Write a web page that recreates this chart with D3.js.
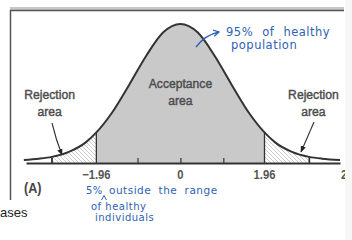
<!DOCTYPE html>
<html>
<head>
<meta charset="utf-8">
<script src="https://cdn.jsdelivr.net/npm/d3@7"></script>
<style>
body{margin:0;background:#fff;}
svg{display:block;}
</style>
</head>
<body>
<svg id="chart" width="352" height="240"></svg>
<script>
// curve: z (SD units) and relative height
var zs   = [-3.65,-3.3,-3,-2.6,-2.2,-1.96,-1.6,-1.2,-0.8,-0.4,0,0.4,0.8,1.2,1.6,1.96,2.2,2.6,3,3.3,3.72]
var dens = [0.022,0.031,0.044,0.08,0.15,0.22,0.36,0.56,0.77,0.94,1,0.94,0.77,0.56,0.36,0.22,0.15,0.08,0.044,0.031,0.022]
var tickZ = [-3,-1,0,1,3]
var labelZ = [-1.96,0,1.96,3.72]
var labelText = ["\u22121.96","0","1.96","2"]
var cutZ = [-3,-1.96,1.96,3]
var areaNames = ["Rejection area","Acceptance area","Rejection area"]
var areaZ = [-3.05,0,3.1]

var svg = d3.select("#chart")
var x = d3.scaleLinear().domain([-3.6,3.72]).range([26,340])
var y = d3.scaleLinear().domain([0,1]).range([163,24])
var pts = zs.map(function(z,i){return {z:z,d:dens[i]}})

// frame
svg.append("rect").attr("x",10).attr("y",7).attr("width",334).attr("height",4).attr("fill","#c8c8c8")
svg.append("line").attr("x1",10).attr("x2",344).attr("y1",10.5).attr("y2",10.5).attr("stroke","#555").attr("stroke-width",1.5)
svg.append("line").attr("x1",10.5).attr("x2",10.5).attr("y1",10).attr("y2",200).attr("stroke","#555").attr("stroke-width",1.5)

var defs = svg.append("defs")
var pat = defs.append("pattern").attr("id","hatch").attr("patternUnits","userSpaceOnUse")
  .attr("width",4).attr("height",4)
pat.append("path").attr("d","M-1,-1 L5,5 M-1,3 L1,5 M3,-1 L5,1").attr("stroke","#bdbdbd").attr("stroke-width",0.8)

function clip(id,z0,z1){
  defs.append("clipPath").attr("id",id).append("rect")
    .attr("x",x(z0)).attr("y",0).attr("width",x(z1)-x(z0)).attr("height",240)
}
clip("cMid",-1.96,1.96)
clip("cL",-3,-1.96)
clip("cR",1.96,3)

var area = d3.area().x(function(d){return x(d.z)}).y0(y(0)).y1(function(d){return y(d.d)}).curve(d3.curveMonotoneX)
var line = d3.line().x(function(d){return x(d.z)}).y(function(d){return y(d.d)}).curve(d3.curveMonotoneX)

svg.append("path").datum(pts).attr("d",area).attr("fill","#c9c9c9").attr("clip-path","url(#cMid)")
svg.append("path").datum(pts).attr("d",area).attr("fill","url(#hatch)").attr("clip-path","url(#cL)")
svg.append("path").datum(pts).attr("d",area).attr("fill","url(#hatch)").attr("clip-path","url(#cR)")

// vertical cuts
svg.selectAll(".cut").data(cutZ).enter().append("line")
  .attr("x1",function(d){return x(d)}).attr("x2",function(d){return x(d)})
  .attr("y1",y(0)).attr("y2",function(d){return y(dens[zs.indexOf(d)])})
  .attr("stroke","#333").attr("stroke-width",1.3)

svg.append("path").datum(pts).attr("d",line).attr("fill","none").attr("stroke","#333").attr("stroke-width",2)

// axis
var ax = svg.append("g").attr("transform","translate(0,"+y(0)+")")
  .call(d3.axisBottom(x).tickValues(tickZ).tickSizeInner(-5).tickSizeOuter(0).tickFormat(""))
ax.select(".domain").attr("stroke","#333").attr("stroke-width",2)
ax.selectAll(".tick line").attr("stroke","#333").attr("stroke-width",1.2)

function ctext(s,cx,by,size,opts){
  opts = opts || {}
  var g = svg.append("g").attr("transform","translate("+cx+","+by+") scale("+(opts.sx||0.9)+",1)")
  var t = g.append("text").text(s)
    .attr("text-anchor",opts.anchor||"middle")
    .attr("font-family","'Liberation Sans', Arial, sans-serif")
    .attr("font-size",size)
    .attr("font-weight",opts.bold?"bold":"normal")
    .attr("fill",opts.fill||"#4d4d4d")
  if(opts.thick) t.attr("stroke",opts.fill||"#4d4d4d").attr("stroke-width",opts.thick)
  return t
}

labelZ.forEach(function(z,i){
  ctext(labelText[i],x(z)+(i==3?1:0),179,12.5,{anchor:i==3?"start":"middle",bold:true,fill:"#555"})
})

// area names
areaNames.forEach(function(n,i){
  var w = n.split(" ")
  var top = i==1?88:99
  ctext(w[0],x(areaZ[i]),top,13.5,{thick:0.45})
  ctext(w[1],x(areaZ[i]),top+17,13.5,{thick:0.45})
})

// black arrows
defs.append("marker").attr("id","ah").attr("viewBox","0 0 10 10").attr("refX",9).attr("refY",5)
  .attr("markerWidth",6).attr("markerHeight",6).attr("orient","auto")
  .append("path").attr("d","M0,1 L10,5 L0,9 Z").attr("fill","#222")
svg.append("path").attr("d","M52,123 Q56,140 62,155").attr("fill","none").attr("stroke","#333").attr("stroke-width",1.1).attr("marker-end","url(#ah)")
svg.append("path").attr("d","M314,122 Q307,138 301,152").attr("fill","none").attr("stroke","#333").attr("stroke-width",1.1).attr("marker-end","url(#ah)")

ctext("(A)",24,193,14,{anchor:"start",bold:true,fill:"#444"})
ctext("ases",0,217,13,{anchor:"start",sx:1,fill:"#222"})

// blue handwritten notes
var blue = "#2d62b4"
function note(s,x0,by,size,ws){
  return svg.append("text").text(s).attr("x",x0).attr("y",by)
    .attr("font-family","'Comic Sans MS','DejaVu Sans',sans-serif").attr("font-size",size)
    .attr("fill",blue).attr("letter-spacing",0.5).attr("word-spacing",ws||0)
}
note("95% of healthy",226,36,11.5,5)
note("population",231,49,11.5)
note("5%",86,194,10)
note("outside the range",109,194,10.5,3.5)
note("of healthy",91,210,10)
note("individuals",95,221,10)
// insertion caret
svg.append("path").attr("d","M101.5,200 L104,195.5 L106.5,200").attr("fill","none").attr("stroke",blue).attr("stroke-width",1)
defs.append("marker").attr("id","bh").attr("viewBox","0 0 10 10").attr("refX",8).attr("refY",5)
  .attr("markerWidth",6).attr("markerHeight",6).attr("orient","auto")
  .append("path").attr("d","M1,1 L8,5 L1,9").attr("fill","none").attr("stroke",blue).attr("stroke-width",1.6)
svg.append("path").attr("d","M196,47 Q205,35 219,32").attr("fill","none").attr("stroke",blue).attr("stroke-width",1.3).attr("marker-end","url(#bh)")

// faded right edge of the scan
svg.append("rect").attr("x",345).attr("y",0).attr("width",7).attr("height",240).attr("fill","#f7f7f7")
</script>
</body>
</html>
